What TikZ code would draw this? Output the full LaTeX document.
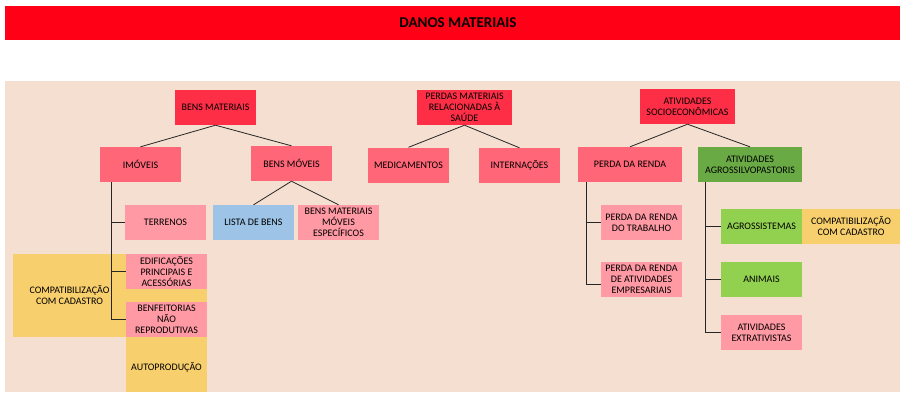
\documentclass[tikz,border=0pt]{standalone}
\usepackage{fontspec}
\setmainfont{Carlito}
\usepackage{tikz}

\definecolor{banner}{HTML}{FF0016}
\definecolor{backg}{HTML}{F4DFD1}
\definecolor{lvlone}{HTML}{FF2E47}
\definecolor{lvltwo}{HTML}{FF6677}
\definecolor{lvlthree}{HTML}{FF99A4}
\definecolor{listblue}{HTML}{9DC3E6}
\definecolor{cadyellow}{HTML}{F8CF6D}
\definecolor{darkgreen}{HTML}{6AAA45}
\definecolor{lightgreen}{HTML}{92D050}

\begin{document}
\begin{tikzpicture}[x=1pt, y=-1pt]
        \tikzset{boxes/.style={rectangle, inner sep=0pt, align=center, minimum width=81pt, minimum height=35pt,
                               font=\fontsize{10}{11}\selectfont},
                 links/.style={draw=black!85, line width=0.8pt}}
        \useasboundingbox (0,0) rectangle (900,392);
        \fill [white] (0,0) rectangle (900,392);
        \fill [banner] (5,6) rectangle (900,40);
        \node [font=\fontsize{15}{17}\selectfont\bfseries] (title) at (458,22.5) {DANOS MATERIAIS};
        \fill [backg] (5,81) rectangle (900,392);

        % bens materiais
        \node [boxes, fill=lvlone]    (bm)  at (215.5,107.5) {BENS MATERIAIS};
        \node [boxes, fill=lvltwo]    (im)  at (140.5,164.5) {IMÓVEIS};
        \node [boxes, fill=lvltwo]    (mov) at (291.5,163.5) {BENS MÓVEIS};
        \node [boxes, fill=lvlthree]  (ter) at (165.5,222.5) {TERRENOS};
        \node [boxes, fill=listblue]  (lb)  at (253.5,222.5) {LISTA DE BENS};
        \node [boxes, fill=lvlthree]  (esp) at (338.5,222.5) {BENS MATERIAIS\\MÓVEIS\\ESPECÍFICOS};
        \fill [cadyellow] (126,254) rectangle (207,392);
        \node [boxes, fill=cadyellow, minimum width=113pt, minimum height=83pt] (cad) at (69.5,295.5) {COMPATIBILIZAÇÃO\\COM CADASTRO};
        \node [boxes, fill=lvlthree]  (edi) at (166.5,271.5) {EDIFICAÇÕES\\PRINCIPAIS E\\ACESSÓRIAS};
        \node [boxes, fill=lvlthree]  (ben) at (166.5,319.5) {BENFEITORIAS\\NÃO\\REPRODUTIVAS};
        \node [boxes, minimum height=55pt] (aut) at (166.5,367) {AUTOPRODUÇÃO};

        % saude
        \node [boxes, fill=lvlone, minimum width=95pt] (sau) at (464.5,107.5) {PERDAS MATERIAIS\\RELACIONADAS À\\SAÚDE};
        \node [boxes, fill=lvltwo]    (med) at (408.5,165) {MEDICAMENTOS};
        \node [boxes, fill=lvltwo]    (int) at (519.5,165.5) {INTERNAÇÕES};

        % atividades
        \node [boxes, fill=lvlone, minimum width=95pt]     (soc) at (687.5,106.5) {ATIVIDADES\\SOCIOECONÔMICAS};
        \node [boxes, fill=lvltwo, minimum width=104pt]    (ren) at (630,164.5) {PERDA DA RENDA};
        \node [boxes, fill=darkgreen, minimum width=104pt] (agr) at (750,164.5) {ATIVIDADES\\AGROSSILVOPASTORIS};
        \node [boxes, fill=lvlthree]   (trb) at (641.5,222.5) {PERDA DA RENDA\\DO TRABALHO};
        \node [boxes, fill=lvlthree]   (emp) at (641.5,279.5) {PERDA DA RENDA\\DE ATIVIDADES\\EMPRESARIAIS};
        \node [boxes, fill=lightgreen] (sis) at (761.5,226.5) {AGROSSISTEMAS};
        \node [boxes, fill=cadyellow, minimum width=98pt] (cadb) at (851,226.5) {COMPATIBILIZAÇÃO\\COM CADASTRO};
        \node [boxes, fill=lightgreen] (ani) at (761.5,279.5) {ANIMAIS};
        \node [boxes, fill=lvlthree]   (ext) at (761.5,332.5) {ATIVIDADES\\EXTRATIVISTAS};

        \draw [links] (bm.south) -- (im.north);
        \draw [links] (bm.south) -- (mov.north);
        \draw [links] (mov.south) -- (lb.north);
        \draw [links] (mov.south) -- (esp.north);
        \draw [links] ([xshift=12pt]im.south west) |- (ter.west);
        \draw [links] ([xshift=12pt]im.south west) |- (edi.west);
        \draw [links] ([xshift=12pt]im.south west) |- (ben.west);

        \draw [links] (sau.south) -- (med.north);
        \draw [links] (sau.south) -- (int.north);

        \draw [links] (soc.south) -- (ren.north);
        \draw [links] (soc.south) -- (agr.north);
        \draw [links] ([xshift=9pt]ren.south west) |- (trb.west);
        \draw [links] ([xshift=9pt]ren.south west) |- ([yshift=-5pt]emp.west);
        \draw [links] ([xshift=8pt]agr.south west) |- (sis.west);
        \draw [links] ([xshift=8pt]agr.south west) |- (ani.west);
        \draw [links] ([xshift=8pt]agr.south west) |- (ext.west);
    \end{tikzpicture}
\end{document}
